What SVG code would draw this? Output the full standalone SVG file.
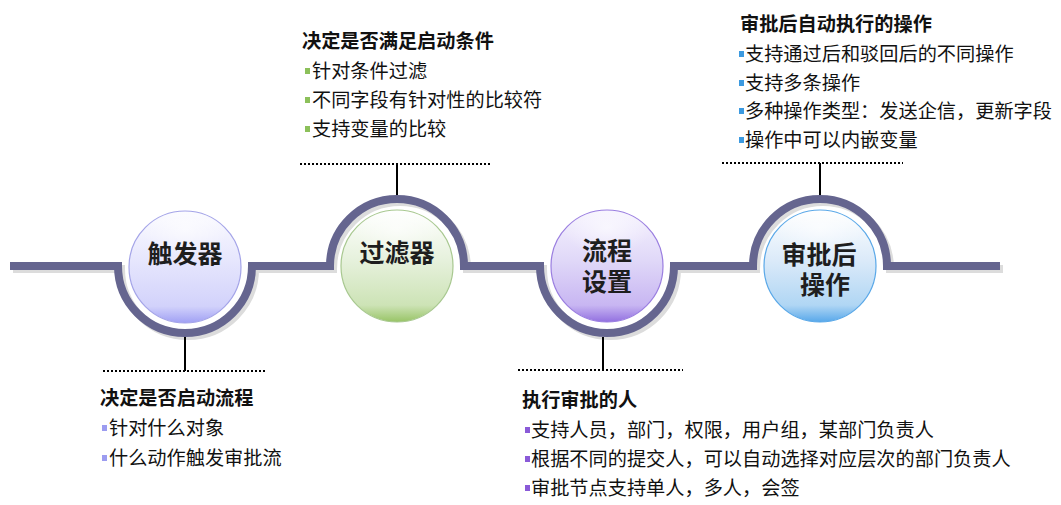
<svg xmlns="http://www.w3.org/2000/svg" width="1061" height="505" viewBox="0 0 1061 505">
<style>
.t{font-family:"Noto Sans CJK SC","Noto Sans CJK JP",sans-serif;font-size:19.2px;fill:#111}
.h{font-weight:700}
.c{font-family:"Noto Sans CJK SC","Noto Sans CJK JP",sans-serif;font-size:25px;font-weight:700;fill:#1e1e1e;text-anchor:middle}
.dot{stroke:#000;stroke-width:2;stroke-dasharray:2 2;fill:none}
.v{stroke:#000;stroke-width:2;fill:none}
</style>
<defs>
<linearGradient id="g1" x1="0" y1="0" x2="0" y2="1">
<stop offset="0" stop-color="#fbfbff"/><stop offset="0.45" stop-color="#e6e6fd"/><stop offset="0.85" stop-color="#d2d2fb"/><stop offset="1" stop-color="#a0a0f4"/>
</linearGradient>
<linearGradient id="g2" x1="0" y1="0" x2="0" y2="1">
<stop offset="0" stop-color="#ffffff"/><stop offset="0.45" stop-color="#e6f1dc"/><stop offset="0.85" stop-color="#cde3b6"/><stop offset="1" stop-color="#98c466"/>
</linearGradient>
<linearGradient id="g3" x1="0" y1="0" x2="0" y2="1">
<stop offset="0" stop-color="#f6f3fe"/><stop offset="0.45" stop-color="#e0d8f8"/><stop offset="0.85" stop-color="#c8b6f2"/><stop offset="1" stop-color="#9270e0"/>
</linearGradient>
<linearGradient id="g4" x1="0" y1="0" x2="0" y2="1">
<stop offset="0" stop-color="#ffffff"/><stop offset="0.45" stop-color="#dbeaf9"/><stop offset="0.85" stop-color="#b0d6f4"/><stop offset="1" stop-color="#58a8ea"/>
</linearGradient>
<radialGradient id="hl" cx="0.5" cy="0.3" r="0.5">
<stop offset="0" stop-color="#fff" stop-opacity="0.6"/><stop offset="1" stop-color="#fff" stop-opacity="0"/>
</radialGradient>
</defs>
<rect width="1061" height="505" fill="#fff"/>
<g id="connectors">
<path d="M10,266 H118 A67,67 0 0 0 252,266 H330 A67,67 0 0 1 464,266 H540 A67,67 0 0 0 674,266 H753 A67,67 0 0 1 887,266 H1000" transform="translate(3,3)" fill="none" stroke="#dcdcdc" stroke-width="8"/>
<path d="M10,266 H118 A67,67 0 0 0 252,266 H330 A67,67 0 0 1 464,266 H540 A67,67 0 0 0 674,266 H753 A67,67 0 0 1 887,266 H1000" fill="none" stroke="#65658f" stroke-width="8"/>
<line class="v" x1="185" y1="337" x2="185" y2="371"/>
<line class="dot" x1="103" y1="371" x2="265" y2="371"/>
<line class="v" x1="397" y1="164" x2="397" y2="195"/>
<line class="dot" x1="300" y1="164" x2="490" y2="164"/>
<line class="v" x1="603" y1="337" x2="603" y2="370"/>
<line class="dot" x1="518" y1="370" x2="683" y2="370"/>
<line class="v" x1="820" y1="163" x2="820" y2="195"/>
<line class="dot" x1="722" y1="163" x2="903" y2="163"/>
</g>
<g id="node-trigger">
<circle cx="185" cy="267" r="56" fill="url(#g1)" stroke="#a4a4e8" stroke-width="1.2"/>
<ellipse cx="185" cy="240" rx="44" ry="28" fill="url(#hl)"/>
<text class="c" x="185" y="263">触发器</text>
</g>
<g id="node-filter">
<circle cx="397" cy="266" r="56" fill="url(#g2)" stroke="#a8c890" stroke-width="1.2"/>
<ellipse cx="397" cy="239" rx="44" ry="28" fill="url(#hl)"/>
<text class="c" x="397" y="262">过滤器</text>
</g>
<g id="node-flow">
<circle cx="607" cy="266" r="56" fill="url(#g3)" stroke="#9a7ee0" stroke-width="1.2"/>
<ellipse cx="607" cy="239" rx="44" ry="28" fill="url(#hl)"/>
<text class="c"><tspan x="607" y="260">流程</tspan><tspan x="607" y="291">设置</tspan></text>
</g>
<g id="node-after">
<circle cx="820" cy="266" r="56" fill="url(#g4)" stroke="#5aa8e8" stroke-width="1.2"/>
<ellipse cx="820" cy="239" rx="44" ry="28" fill="url(#hl)"/>
<text class="c"><tspan x="819" y="264">审批后</tspan><tspan x="825" y="294">操作</tspan></text>
</g>
<g id="text-trigger">
<text class="t h" x="100" y="405">决定是否启动流程</text>
<rect x="102" y="425" width="5" height="6" fill="#9c9cf0"/>
<text class="t" x="109" y="435">针对什么对象</text>
<rect x="102" y="455" width="5" height="6" fill="#9c9cf0"/>
<text class="t" x="109" y="465">什么动作触发审批流</text>
</g>
<g id="text-filter">
<text class="t h" x="302" y="48">决定是否满足启动条件</text>
<rect x="305" y="68" width="5" height="6" fill="#8cc05a"/>
<text class="t" x="312" y="78">针对条件过滤</text>
<rect x="305" y="97" width="5" height="6" fill="#8cc05a"/>
<text class="t" x="312" y="107">不同字段有针对性的比较符</text>
<rect x="305" y="126" width="5" height="6" fill="#8cc05a"/>
<text class="t" x="312" y="136">支持变量的比较</text>
</g>
<g id="text-flow">
<text class="t h" x="522" y="407">执行审批的人</text>
<rect x="525" y="427" width="5" height="6" fill="#8a5ad8"/>
<text class="t" x="531" y="437">支持人员，部门，权限，用户组，某部门负责人</text>
<rect x="525" y="456" width="5" height="6" fill="#8a5ad8"/>
<text class="t" x="531" y="466">根据不同的提交人，可以自动选择对应层次的部门负责人</text>
<rect x="525" y="485" width="5" height="6" fill="#8a5ad8"/>
<text class="t" x="531" y="495">审批节点支持单人，多人，会签</text>
</g>
<g id="text-after">
<text class="t h" x="740" y="31">审批后自动执行的操作</text>
<rect x="739" y="51" width="5" height="6" fill="#3c9ae0"/>
<text class="t" x="745" y="61">支持通过后和驳回后的不同操作</text>
<rect x="739" y="80" width="5" height="6" fill="#3c9ae0"/>
<text class="t" x="745" y="90">支持多条操作</text>
<rect x="739" y="108" width="5" height="6" fill="#3c9ae0"/>
<text class="t" x="745" y="118">多种操作类型：发送企信，更新字段</text>
<rect x="739" y="137" width="5" height="6" fill="#3c9ae0"/>
<text class="t" x="745" y="147">操作中可以内嵌变量</text>
</g>
</svg>
